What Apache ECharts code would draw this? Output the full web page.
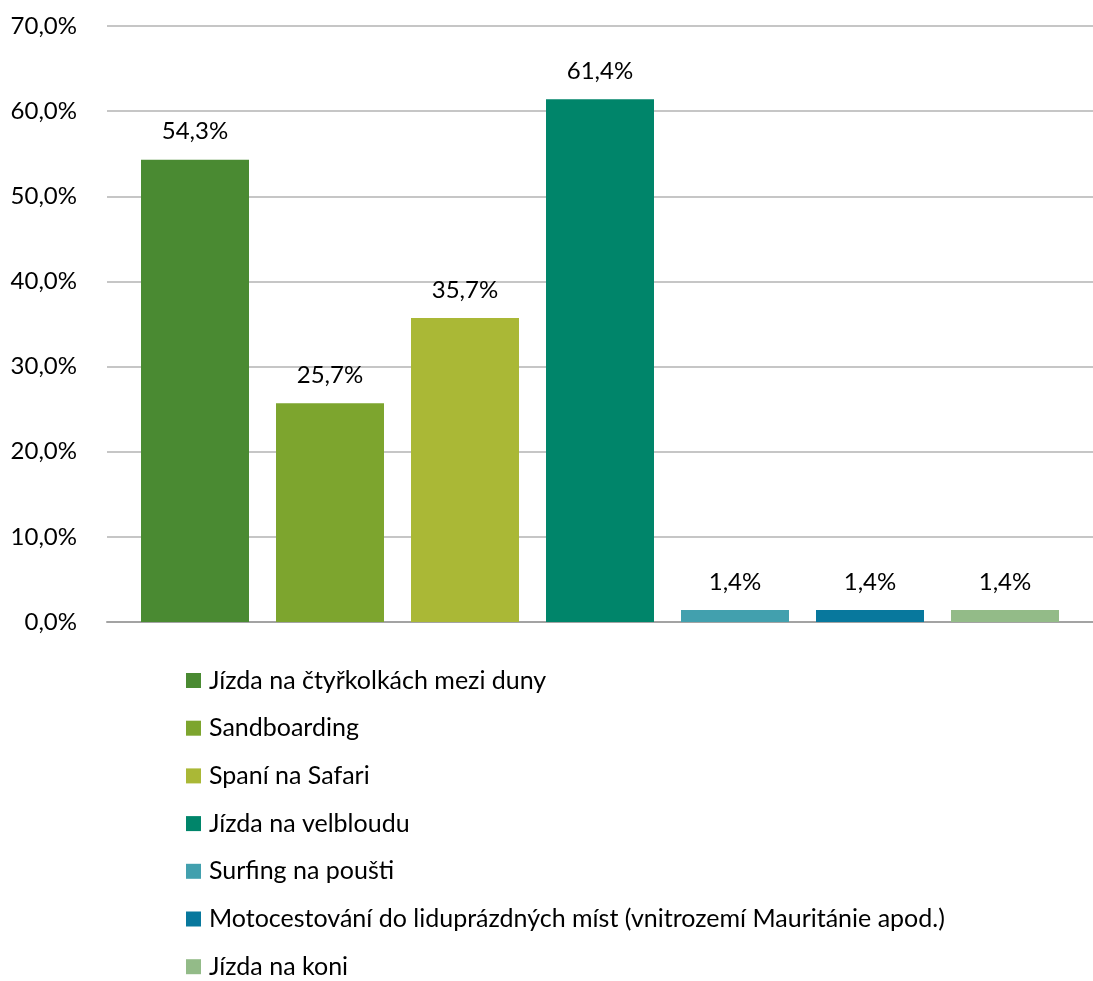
<!DOCTYPE html>
<html>
<head>
<meta charset="utf-8">
<script src="https://cdn.jsdelivr.net/npm/echarts@6/dist/echarts.min.js"></script>
<style>
    html, body { margin: 0; padding: 0; background: #fff; }
    #chart { width: 1093px; height: 981px; }
</style>
</head>
<body>
<div id="chart"></div>
<script>
var activities = [
    'Jízda na čtyřkolkách mezi duny',
    'Sandboarding',
    'Spaní na Safari',
    'Jízda na velbloudu',
    'Surfing na poušti',
    'Motocestování do liduprázdných míst (vnitrozemí Mauritánie apod.)',
    'Jízda na koni'
];
var shares = [54.3, 25.7, 35.7, 61.4, 1.4, 1.4, 1.4];
var barColors = ['#4a8a32', '#7da52e', '#aab836', '#00856a', '#42a0ae', '#08789d', '#93bb88'];
var yTicks = [0, 10, 20, 30, 40, 50, 60, 70];

var FONT = 'Lato, "Noto Sans", sans-serif';

function pct(v) {
    return v.toFixed(1).replace('.', ',') + '%';
}

var seriesList = [];
for (var i = 0; i < activities.length; i++) {
    seriesList.push({
        name: activities[i],
        type: 'bar',
        data: [shares[i]],
        barWidth: 108,
        barGap: '25%',
        itemStyle: {
            color: barColors[i]
        },
        label: {
            show: true,
            position: 'top',
            distance: 16,
            formatter: function (p) { return pct(p.value); },
            color: '#000',
            fontFamily: FONT,
            fontSize: 24,
            lineHeight: 24
        }
    });
}

var option = {
    animation: false,
    backgroundColor: '#fff',
    grid: {
        left: 107,
        right: 0,
        top: 26,
        bottom: 359
    },
    legend: {
        orient: 'vertical',
        left: 186,
        top: 668,
        height: 340,
        padding: 0,
        itemWidth: 15,
        itemHeight: 15,
        itemGap: 22.7,
        icon: 'rect',
        data: activities,
        textStyle: {
            fontFamily: FONT,
            fontSize: 25,
            color: '#000',
            padding: [0, 0, 0, 3]
        }
    },
    xAxis: {
        type: 'category',
        data: [''],
        axisTick: { show: false },
        axisLabel: { show: false },
        axisLine: { lineStyle: { color: '#a3a3a3', width: 2 } }
    },
    yAxis: {
        type: 'value',
        min: yTicks[0],
        max: yTicks[yTicks.length - 1],
        interval: 10,
        axisLine: { show: false },
        axisTick: { show: false },
        axisLabel: {
            margin: 30,
            color: '#000',
            fontFamily: FONT,
            fontSize: 24,
            formatter: function (v) { return pct(v); }
        },
        splitLine: { lineStyle: { color: '#b3b3b3', width: 1.5 } }
    },
    series: seriesList
};

var echart = echarts.init(document.getElementById('chart'));
echart.setOption(option, true);
</script>
</body>
</html>
